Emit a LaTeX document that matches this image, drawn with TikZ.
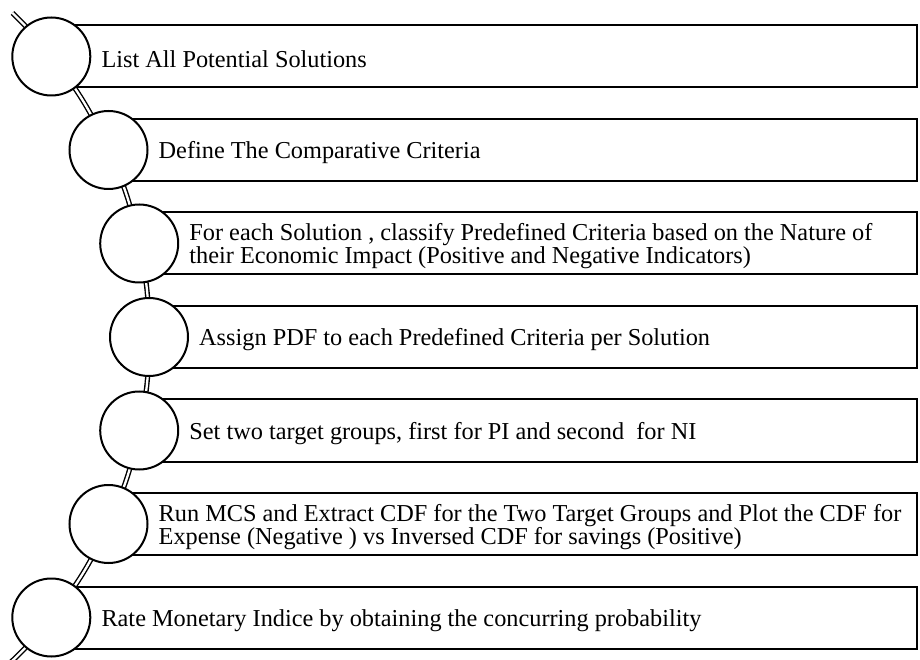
\documentclass[tikz,border=0pt]{standalone}
\usepackage{fontspec}
\setmainfont{Liberation Serif}
\usetikzlibrary{backgrounds,calc}

\begin{document}
\begin{tikzpicture}[x=1pt,y=1pt,
    stage/.style={circle,draw,line width=2pt,fill=white,minimum size=78pt,inner sep=0pt},
    steptext/.style={anchor=west,inner sep=0pt,align=left,font=\fontsize{24.3}{21.7}\selectfont},
    stepbox/.style={draw,line width=2pt},
    trail/.style={double,line width=1.4pt,double distance=2.3pt}]
      \useasboundingbox (0,0) rectangle (920,659);
      \coordinate (top) at (12.5,646);
      \coordinate (bot) at (3.5,-10);
      \coordinate (edge) at (917,322);
      \node[stage] (s1) at (51.3,602.5) {};
      \node[stage] (s2) at (108.5,509) {};
      \node[stage] (s3) at (139.2,415.5) {};
      \node[stage] (s4) at (149,322) {};
      \node[stage] (s5) at (139.2,228.5) {};
      \node[stage] (s6) at (108.5,135) {};
      \node[stage] (s7) at (51.3,41.5) {};
      \node[steptext] (t1) at ([xshift=10pt,yshift=-3pt]s1.east) {List All Potential Solutions};
      \node[steptext] (t2) at ([xshift=10pt,yshift=-3pt]s2.east) {Define The Comparative Criteria};
      \node[steptext] (t3) at ([xshift=10pt,yshift=-3pt]s3.east) {For each Solution , classify Predefined Criteria based on the Nature of\\their Economic Impact (Positive and Negative Indicators)};
      \node[steptext] (t4) at ([xshift=10pt,yshift=-3pt]s4.east) {Assign PDF to each Predefined Criteria per Solution};
      \node[steptext] (t5) at ([xshift=10pt,yshift=-3pt]s5.east) {Set two target groups, first for PI and second\ \ for NI};
      \node[steptext] (t6) at ([xshift=10pt,yshift=-3pt]s6.east) {Run MCS and Extract CDF for the Two Target Groups and Plot the CDF for\\Expense (Negative ) vs Inversed CDF for savings (Positive)};
      \node[steptext] (t7) at ([xshift=10pt,yshift=-3pt]s7.east) {Rate Monetary Indice by obtaining the concurring probability};
      \begin{pgfonlayer}{background}
        \draw[stepbox] ($(s1)+(0,31)$) rectangle ($(s1 -| edge)+(0,-31)$);
        \draw[stepbox] ($(s2)+(0,31)$) rectangle ($(s2 -| edge)+(0,-31)$);
        \draw[stepbox] ($(s3)+(0,31)$) rectangle ($(s3 -| edge)+(0,-31)$);
        \draw[stepbox] ($(s4)+(0,31)$) rectangle ($(s4 -| edge)+(0,-31)$);
        \draw[stepbox] ($(s5)+(0,31)$) rectangle ($(s5 -| edge)+(0,-31)$);
        \draw[stepbox] ($(s6)+(0,31)$) rectangle ($(s6 -| edge)+(0,-31)$);
        \draw[stepbox] ($(s7)+(0,31)$) rectangle ($(s7 -| edge)+(0,-31)$);
        \draw[trail] (top) to[bend left=3.8] (s1.center) to[bend left=7] (s2.center)
          to[bend left=6.3] (s3.center) to[bend left=6] (s4.center) to[bend left=6] (s5.center)
          to[bend left=6.3] (s6.center) to[bend left=7] (s7.center) to[bend left=4.5] (bot);
      \end{pgfonlayer}
    \end{tikzpicture}
\end{document}
